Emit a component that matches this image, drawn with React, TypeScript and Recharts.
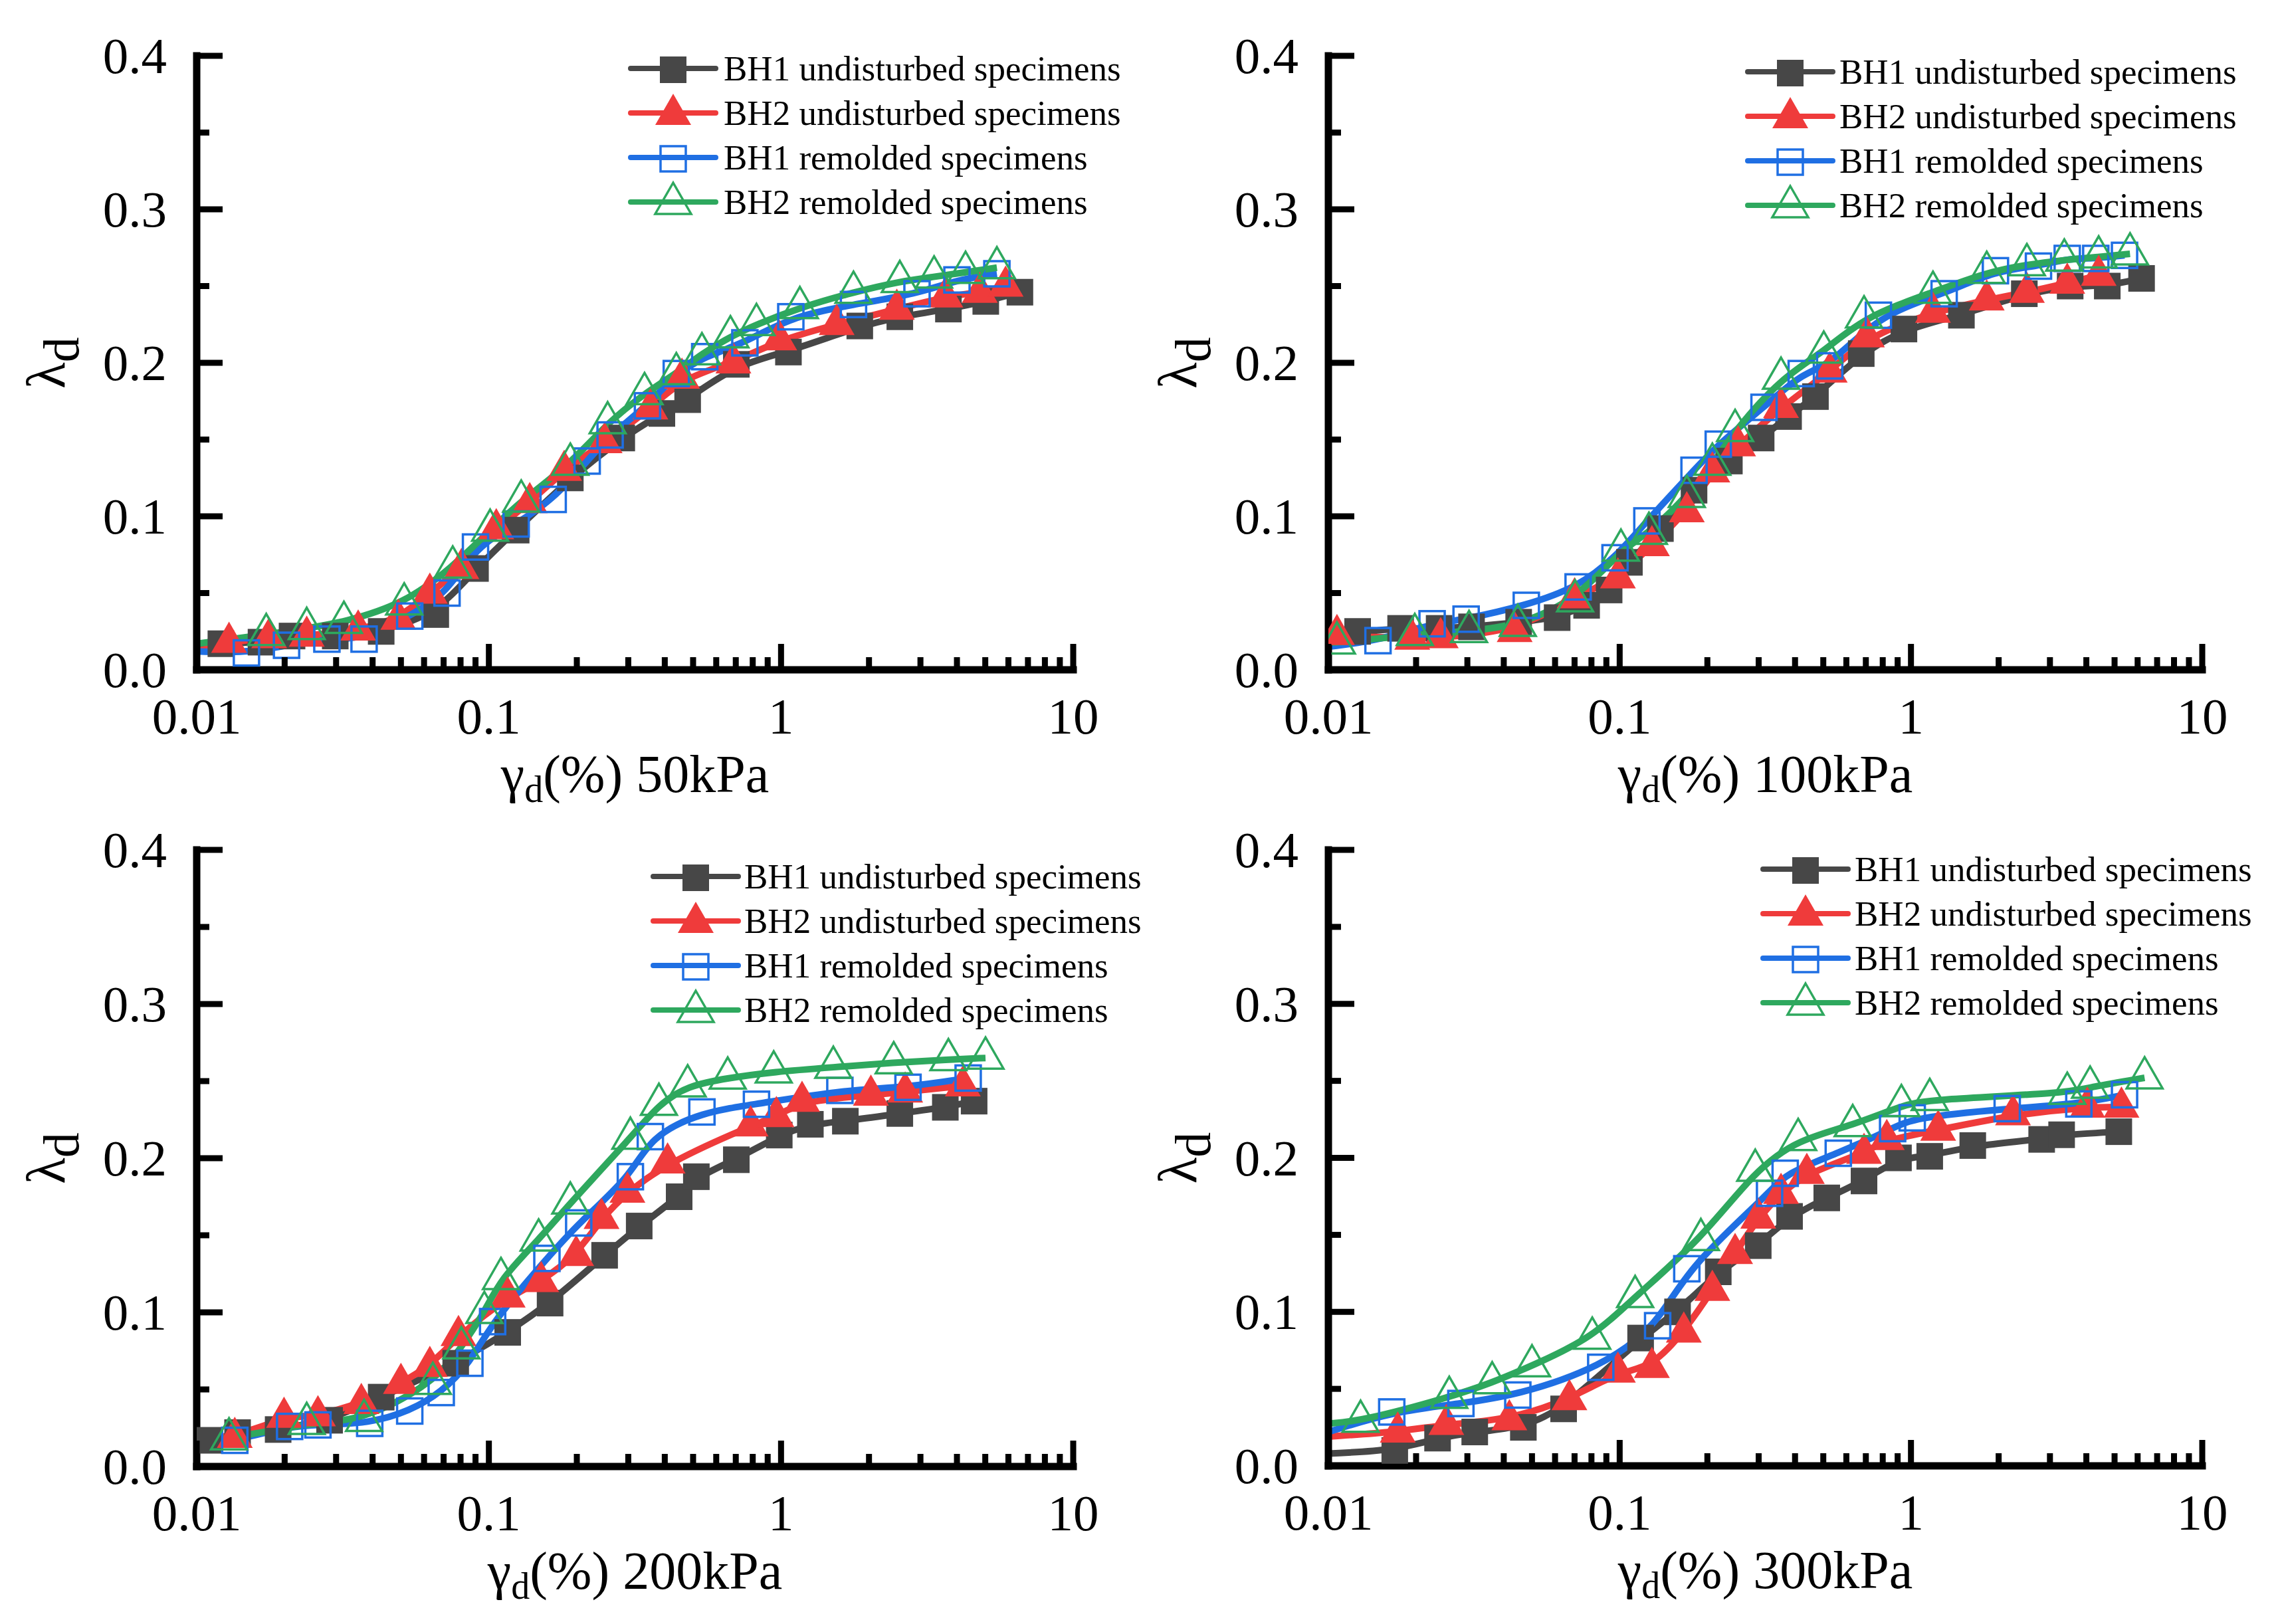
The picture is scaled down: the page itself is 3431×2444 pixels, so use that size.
import React from 'react';
import { LineChart, Line, XAxis, YAxis } from 'recharts';

const FONT = '"Liberation Serif", "Times New Roman", serif';
const W = 3431;
const H = 2444;

// ---------- tick values & labels ----------
const xTickValues = [0.01, 0.02, 0.03, 0.04, 0.05, 0.06, 0.07, 0.08, 0.09, 0.1, 0.2, 0.3, 0.4, 0.5, 0.6, 0.7, 0.8, 0.9, 1, 2, 3, 4, 5, 6, 7, 8, 9, 10];
const xMajorLabels: Record<string, string> = { '0.01': '0.01', '0.1': '0.1', '1': '1', '10': '10' };
const yTickValues = [0, 0.05, 0.1, 0.15, 0.2, 0.25, 0.3, 0.35, 0.4];
const yMajorLabels: Record<string, string> = { '0': '0.0', '0.1': '0.1', '0.2': '0.2', '0.3': '0.3', '0.4': '0.4' };

// ---------- series meta ----------
const seriesNames = ['BH1 undisturbed specimens', 'BH2 undisturbed specimens', 'BH1 remolded specimens', 'BH2 remolded specimens'];
const seriesColors = ['#474747', '#EF3B3B', '#1F6FE3', '#2EA85E'];
const markerKinds = ['square', 'triangle', 'squareOpen', 'triangleOpen'];
const pressureLabels = ['50kPa', '100kPa', '200kPa', '300kPa'];

// ---------- 50 kPa ----------
const x50_bh1u = [0.0121, 0.0166, 0.0212, 0.0298, 0.0428, 0.0658, 0.09, 0.124, 0.19, 0.285, 0.391, 0.479, 0.703, 1.06, 1.86, 2.55, 3.74, 5.02, 6.57];
const y50_bh1u = [0.017, 0.018, 0.022, 0.022, 0.025, 0.036, 0.066, 0.091, 0.125, 0.151, 0.167, 0.176, 0.199, 0.207, 0.224, 0.23, 0.235, 0.24, 0.246];
const x50_bh2u = [0.0129, 0.0177, 0.0238, 0.0357, 0.049, 0.0628, 0.0805, 0.106, 0.138, 0.181, 0.249, 0.357, 0.458, 0.687, 0.986, 1.55, 2.49, 3.65, 4.79, 5.87];
const y50_bh2u = [0.018, 0.021, 0.022, 0.026, 0.033, 0.05, 0.066, 0.092, 0.109, 0.13, 0.148, 0.17, 0.19, 0.2, 0.215, 0.225, 0.235, 0.243, 0.246, 0.25];
const x50_bh1r = [0.0148, 0.0203, 0.0279, 0.0374, 0.0536, 0.0719, 0.09, 0.124, 0.166, 0.217, 0.26, 0.349, 0.438, 0.548, 0.752, 1.08, 1.77, 2.92, 4.0, 5.48];
const y50_bh1r = [0.011, 0.016, 0.02, 0.02, 0.035, 0.05, 0.08, 0.095, 0.111, 0.136, 0.153, 0.172, 0.193, 0.204, 0.213, 0.23, 0.238, 0.245, 0.254, 0.258];
const x50_bh2r = [0.0173, 0.0238, 0.0319, 0.0513, 0.0752, 0.101, 0.129, 0.19, 0.255, 0.341, 0.438, 0.536, 0.671, 0.824, 1.16, 1.77, 2.55, 3.34, 4.28, 5.48];
const y50_bh2r = [0.023, 0.027, 0.031, 0.043, 0.067, 0.091, 0.11, 0.134, 0.161, 0.18, 0.193, 0.206, 0.217, 0.225, 0.236, 0.246, 0.253, 0.256, 0.259, 0.262];
const start50 = [0.013, 0.012, 0.012, 0.017];

// ---------- 100 kPa ----------
const x100_bh1u = [0.0126, 0.0177, 0.024, 0.031, 0.045, 0.061, 0.077, 0.092, 0.108, 0.138, 0.18, 0.238, 0.306, 0.38, 0.47, 0.675, 0.946, 1.49, 2.45, 3.52, 4.72, 6.19];
const y100_bh1u = [0.025, 0.027, 0.027, 0.028, 0.031, 0.034, 0.042, 0.052, 0.07, 0.092, 0.117, 0.136, 0.151, 0.165, 0.178, 0.206, 0.222, 0.231, 0.245, 0.25, 0.25, 0.255];
const x100_bh2u = [0.0107, 0.0194, 0.0243, 0.0436, 0.07, 0.0986, 0.129, 0.17, 0.208, 0.255, 0.358, 0.526, 0.706, 1.19, 1.82, 2.5, 3.44, 4.41];
const y100_bh2u = [0.023, 0.02, 0.021, 0.025, 0.047, 0.06, 0.081, 0.103, 0.129, 0.146, 0.171, 0.194, 0.217, 0.233, 0.241, 0.246, 0.252, 0.257];
const x100_bh1r = [0.0148, 0.0227, 0.0297, 0.0478, 0.072, 0.0964, 0.124, 0.18, 0.218, 0.313, 0.42, 0.526, 0.773, 1.3, 1.95, 2.74, 3.44, 4.31, 5.41];
const y100_bh1r = [0.019, 0.03, 0.033, 0.042, 0.054, 0.073, 0.097, 0.13, 0.147, 0.171, 0.193, 0.198, 0.231, 0.245, 0.26, 0.263, 0.268, 0.268, 0.27];
const x100_bh2r = [0.0107, 0.0198, 0.0304, 0.0447, 0.0703, 0.101, 0.126, 0.17, 0.208, 0.249, 0.358, 0.502, 0.69, 1.19, 1.82, 2.5, 3.36, 4.41, 5.65];
const y100_bh2r = [0.0175, 0.023, 0.025, 0.029, 0.045, 0.078, 0.089, 0.113, 0.134, 0.156, 0.19, 0.207, 0.23, 0.246, 0.259, 0.264, 0.267, 0.269, 0.271];
const start100 = [0.016, 0.015, 0.015, 0.018];

// ---------- 200 kPa ----------
const x200_bh1u = [0.011, 0.0138, 0.019, 0.0285, 0.0428, 0.077, 0.116, 0.162, 0.249, 0.327, 0.448, 0.513, 0.703, 0.986, 1.26, 1.66, 2.55, 3.65, 4.58];
const y200_bh1u = [0.017, 0.022, 0.024, 0.03, 0.045, 0.067, 0.087, 0.106, 0.137, 0.156, 0.175, 0.188, 0.199, 0.215, 0.222, 0.224, 0.229, 0.233, 0.237];
const x200_bh2u = [0.0135, 0.0199, 0.026, 0.0366, 0.05, 0.0628, 0.0787, 0.116, 0.151, 0.199, 0.243, 0.298, 0.409, 0.787, 0.964, 1.18, 2.03, 2.66, 4.19];
const y200_bh2u = [0.019, 0.032, 0.033, 0.041, 0.054, 0.065, 0.085, 0.11, 0.12, 0.137, 0.161, 0.178, 0.197, 0.221, 0.227, 0.237, 0.241, 0.243, 0.247];
const x200_bh1r = [0.0135, 0.0208, 0.026, 0.0391, 0.0536, 0.0687, 0.0861, 0.103, 0.158, 0.203, 0.305, 0.357, 0.536, 0.824, 1.59, 2.72, 4.37];
const y200_bh1r = [0.017, 0.026, 0.027, 0.028, 0.036, 0.048, 0.067, 0.094, 0.135, 0.158, 0.188, 0.214, 0.23, 0.235, 0.244, 0.246, 0.252];
const x200_bh2r = [0.0129, 0.0238, 0.0374, 0.0643, 0.0805, 0.0965, 0.11, 0.148, 0.19, 0.305, 0.382, 0.479, 0.657, 0.944, 1.51, 2.43, 3.74, 5.01];
const y200_bh2r = [0.018, 0.028, 0.03, 0.054, 0.077, 0.1, 0.122, 0.147, 0.171, 0.213, 0.235, 0.247, 0.252, 0.256, 0.259, 0.262, 0.264, 0.265];
const start200 = [0.015, 0.018, 0.012, 0.016];

// ---------- 300 kPa ----------
const x300_bh1u = [0.0169, 0.0237, 0.0318, 0.0467, 0.0642, 0.118, 0.158, 0.218, 0.299, 0.383, 0.514, 0.69, 0.906, 1.16, 1.63, 2.81, 3.29, 5.17];
const y300_bh1u = [0.01, 0.018, 0.022, 0.025, 0.037, 0.083, 0.1, 0.126, 0.143, 0.162, 0.174, 0.185, 0.2, 0.201, 0.208, 0.212, 0.215, 0.217];
const x300_bh2u = [0.0173, 0.0254, 0.0418, 0.0672, 0.0986, 0.129, 0.166, 0.208, 0.249, 0.299, 0.358, 0.439, 0.69, 0.826, 1.24, 2.24, 4.03, 5.28];
const y300_bh2u = [0.022, 0.027, 0.03, 0.043, 0.061, 0.064, 0.087, 0.114, 0.138, 0.161, 0.177, 0.19, 0.203, 0.212, 0.218, 0.228, 0.233, 0.233];
const x300_bh1r = [0.0165, 0.0285, 0.0447, 0.0861, 0.135, 0.17, 0.327, 0.37, 0.563, 0.865, 1.01, 2.14, 3.77, 5.41];
const y300_bh1r = [0.035, 0.0405, 0.046, 0.064, 0.091, 0.128, 0.177, 0.19, 0.203, 0.219, 0.226, 0.232, 0.235, 0.241];
const x300_bh2r = [0.0129, 0.026, 0.0365, 0.05, 0.0805, 0.113, 0.19, 0.292, 0.41, 0.631, 0.927, 1.16, 3.44, 4.12, 6.34];
const y300_bh2r = [0.029, 0.0445, 0.054, 0.065, 0.083, 0.11, 0.147, 0.192, 0.212, 0.221, 0.234, 0.238, 0.242, 0.246, 0.252];
const start300 = [0.008, 0.019, 0.022, 0.0275];

// ---------- assembly ----------
type Pt = { x: number; y: number; m: boolean };
const build = (x0: number, y0: number, xs: number[], ys: number[]): Pt[] => [
  { x: x0, y: y0, m: false },
  ...xs.map((x, i) => ({ x, y: ys[i], m: true })),
];

const panelData: Pt[][][] = [
  [build(0.01, start50[0], x50_bh1u, y50_bh1u), build(0.01, start50[1], x50_bh2u, y50_bh2u), build(0.01, start50[2], x50_bh1r, y50_bh1r), build(0.01, start50[3], x50_bh2r, y50_bh2r)],
  [build(0.01, start100[0], x100_bh1u, y100_bh1u), build(0.01, start100[1], x100_bh2u, y100_bh2u), build(0.01, start100[2], x100_bh1r, y100_bh1r), build(0.01, start100[3], x100_bh2r, y100_bh2r)],
  [build(0.01, start200[0], x200_bh1u, y200_bh1u), build(0.01, start200[1], x200_bh2u, y200_bh2u), build(0.01, start200[2], x200_bh1r, y200_bh1r), build(0.01, start200[3], x200_bh2r, y200_bh2r)],
  [build(0.01, start300[0], x300_bh1u, y300_bh1u), build(0.01, start300[1], x300_bh2u, y300_bh2u), build(0.01, start300[2], x300_bh1r, y300_bh1r), build(0.01, start300[3], x300_bh2r, y300_bh2r)],
];

// layout (plot rectangles & legend anchors)
const panelLayout = [
  { l: 296, r: 1615, t: 84, b: 1008, lx: 949, tx: 1089, ly: 103 },
  { l: 1999, r: 3314, t: 84, b: 1008, lx: 2630, tx: 2768, ly: 108 },
  { l: 296, r: 1615, t: 1279, b: 2207, lx: 983, tx: 1120, ly: 1319 },
  { l: 1999, r: 3314, t: 1279, b: 2206, lx: 2653, tx: 2791, ly: 1308 },
];

function Marker({ kind, cx, cy, color }: { kind: string; cx: number; cy: number; color: string }) {
  if (kind === 'square') return <rect x={cx - 20} y={cy - 20} width={40} height={40} fill={color} />;
  if (kind === 'squareOpen')
    return <rect x={cx - 19} y={cy - 19} width={38} height={38} fill="none" stroke={color} strokeWidth={3.5} />;
  const pts = `${cx},${cy - 31} ${cx + 27},${cy + 16} ${cx - 27},${cy + 16}`;
  if (kind === 'triangle') return <polygon points={pts} fill={color} />;
  return <polygon points={pts} fill="none" stroke={color} strokeWidth={3.5} strokeLinejoin="miter" />;
}

const isDecade = (v: number) => Math.abs(Math.log10(v) - Math.round(Math.log10(v))) < 1e-6;
const isYMajor = (v: number) => Math.abs(v * 10 - Math.round(v * 10)) < 1e-6;

const renderXTick = (props: any) => {
  const { x, y, payload } = props;
  const v = payload.value as number;
  const major = isDecade(v);
  return (
    <g key={`xt-${v}`}>
      <line x1={x} x2={x} y1={y} y2={y - (major ? 39 : 19)} stroke="#000" strokeWidth={9} />
      {major && (
        <text x={x} y={y + 96} textAnchor="middle" fontSize={77} fontFamily={FONT} fill="#000">
          {xMajorLabels[String(v)]}
        </text>
      )}
    </g>
  );
};

const renderYTick = (props: any) => {
  const { x, y, payload } = props;
  const v = payload.value as number;
  const major = isYMajor(v);
  return (
    <g key={`yt-${v}`}>
      <line x1={x} x2={x + (major ? 39 : 19)} y1={y} y2={y} stroke="#000" strokeWidth={9} />
      {major && (
        <text x={x - 45} y={y + 26} textAnchor="end" fontSize={77} fontFamily={FONT} fill="#000">
          {yMajorLabels[String(Math.round(v * 10) / 10)]}
        </text>
      )}
    </g>
  );
};

function Panel({ idx }: { idx: number }) {
  const p = panelLayout[idx];
  const data = panelData[idx];
  return (
    <div style={{ position: 'absolute', left: 0, top: 0 }}>
      <LineChart
        width={W}
        height={H}
        margin={{ top: p.t, left: p.l - 100, right: W - p.r, bottom: H - p.b - 100 }}
      >
        <XAxis
          type="number"
          dataKey="x"
          scale="log"
          domain={[0.01, 10]}
          ticks={xTickValues}
          interval={0}
          allowDataOverflow
          height={100}
          tickSize={0}
          tickMargin={0}
          tickLine={false}
          axisLine={{ stroke: '#000', strokeWidth: 11, strokeLinecap: 'square' }}
          tick={renderXTick}
        />
        <YAxis
          type="number"
          domain={[0, 0.4]}
          ticks={yTickValues}
          interval={0}
          allowDataOverflow
          width={100}
          tickSize={0}
          tickMargin={0}
          tickLine={false}
          axisLine={{ stroke: '#000', strokeWidth: 11, strokeLinecap: 'square' }}
          tick={renderYTick}
        />
        {data.map((s, si) => (
          <Line
            key={si}
            data={s}
            dataKey="y"
            type="basis"
            stroke={seriesColors[si]}
            strokeWidth={10}
            isAnimationActive={false}
            dot={(dp: any) => {
              const { cx, cy, payload, index } = dp;
              if (!payload || !payload.m) return <g key={`d${si}-${index}`} />;
              return (
                <g key={`d${si}-${index}`}>
                  <Marker kind={markerKinds[si]} cx={cx} cy={cy} color={seriesColors[si]} />
                </g>
              );
            }}
            activeDot={false}
          />
        ))}
      </LineChart>
    </div>
  );
}

function Overlay() {
  return (
    <svg width={W} height={H} style={{ position: 'absolute', left: 0, top: 0, pointerEvents: 'none' }}>
      {panelLayout.map((p, i) => (
        <g key={i} fontFamily={FONT} fill="#000">
          <text x={(p.l + p.r) / 2} y={p.b + 184} textAnchor="middle" fontSize={80}>
            γ<tspan fontSize={56} dy={15}>d</tspan>
            <tspan dy={-15}>{`(%) ${pressureLabels[i]}`}</tspan>
          </text>
          <text transform={`translate(${p.l - 199},${(p.t + p.b) / 2}) rotate(-90)`} textAnchor="middle" fontSize={82}>
            λ<tspan fontSize={76} dy={21}>d</tspan>
          </text>
          {seriesNames.map((name, si) => {
            const y = p.ly + si * 67;
            return (
              <g key={si}>
                <line x1={p.lx} x2={p.lx + 128} y1={y} y2={y} stroke={seriesColors[si]} strokeWidth={8} strokeLinecap="round" />
                <Marker kind={markerKinds[si]} cx={p.lx + 64} cy={y + 2} color={seriesColors[si]} />
                <text x={p.tx} y={y + 18} fontSize={53}>
                  {name}
                </text>
              </g>
            );
          })}
        </g>
      ))}
    </svg>
  );
}

export default function App() {
  return (
    <div style={{ position: 'absolute', left: 0, top: 0, width: W, height: H, background: '#fff', overflow: 'hidden' }}>
      {[0, 1, 2, 3].map((i) => (
        <Panel key={i} idx={i} />
      ))}
      <Overlay />
    </div>
  );
}
